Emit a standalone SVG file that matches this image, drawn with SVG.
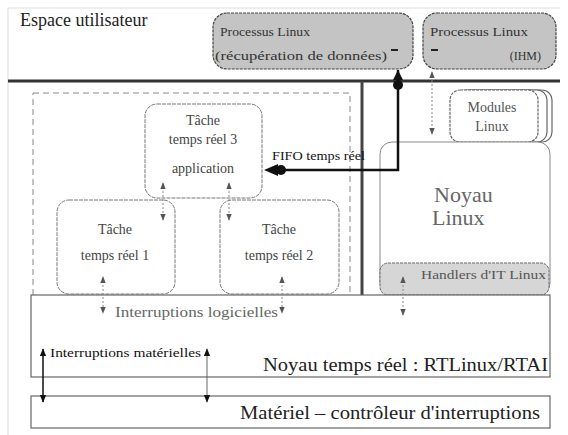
<svg xmlns="http://www.w3.org/2000/svg" width="568" height="435" viewBox="0 0 568 435">
<defs>
<marker id="ah" viewBox="0 0 10 10" refX="9" refY="5" markerWidth="7" markerHeight="7" orient="auto-start-reverse" markerUnits="userSpaceOnUse">
<path d="M0,1 L10,5 L0,9 z" fill="#555"/>
</marker>
<marker id="ahb" viewBox="0 0 10 10" refX="9" refY="5" markerWidth="8" markerHeight="8" orient="auto-start-reverse" markerUnits="userSpaceOnUse">
<path d="M0,1 L10,5 L0,9 z" fill="#111"/>
</marker>
<style>
text{font-family:"Liberation Serif","DejaVu Serif",serif;}
.proc{fill:#c4c4c4;stroke:#444;stroke-width:1.2;stroke-dasharray:3 1;}
.task{fill:#fff;stroke:#777;stroke-width:1;stroke-dasharray:4 1;}
.t{fill:#444;font-size:14px;text-anchor:middle;}
.ps{fill:#333;font-size:12px;}
.dot{stroke:#888;stroke-width:1;stroke-dasharray:2 2;fill:none;}
.box{fill:#fff;stroke:#666;stroke-width:1.2;}
</style>
</defs>
<rect width="568" height="435" fill="#fff"/>
<path d="M8,435 V8 H560" fill="none" stroke="#ddd" stroke-width="1"/>

<g id="espace">
<text x="20" y="26" font-size="18" fill="#222">Espace utilisateur</text>
<line x1="8" y1="81" x2="560" y2="81" stroke="#333" stroke-width="3"/>
</g>

<g id="proc1">
<rect class="proc" x="213" y="13" width="200" height="56" rx="14"/>
<text class="ps" x="220" y="36" textLength="90" lengthAdjust="spacingAndGlyphs">Processus Linux</text>
<text class="ps" x="215" y="60" textLength="172" lengthAdjust="spacingAndGlyphs">(récupération de données)</text>
<line x1="391" y1="50" x2="398" y2="50" stroke="#222" stroke-width="2"/>
</g>

<g id="proc2">
<rect class="proc" x="423" y="13" width="133" height="56" rx="14"/>
<text class="ps" x="430" y="36" textLength="98" lengthAdjust="spacingAndGlyphs">Processus Linux</text>
<text class="ps" x="541" y="60" text-anchor="end">(IHM)</text>
<line x1="431" y1="50" x2="438" y2="50" stroke="#222" stroke-width="2"/>
</g>

<g id="rtspace">
<rect x="33" y="93" width="317" height="204" fill="none" stroke="#888" stroke-width="1" stroke-dasharray="6 4"/>
</g>
<line x1="362" y1="81" x2="362" y2="299" stroke="#444" stroke-width="3"/>

<g id="tache3">
<rect class="task" x="145" y="104" width="117" height="94" rx="12"/>
<text class="t" x="203" y="125">Tâche</text>
<text class="t" x="203" y="144">temps réel 3</text>
<text class="t" x="203" y="173">application</text>
</g>

<g id="tache1">
<rect class="task" x="57" y="200" width="118" height="94" rx="12"/>
<text class="t" x="115" y="234">Tâche</text>
<text class="t" x="115" y="260">temps réel 1</text>
</g>

<g id="tache2">
<rect class="task" x="220" y="200" width="119" height="94" rx="12"/>
<text class="t" x="279" y="234">Tâche</text>
<text class="t" x="279" y="260">temps réel 2</text>
</g>

<g id="modules">
<rect class="box" x="460" y="90" width="92" height="52" rx="10" stroke="#999"/>
<rect class="box" x="455" y="90" width="92" height="52" rx="10" stroke="#999"/>
<rect class="box" x="450" y="90" width="88" height="52" rx="10" stroke="#777" stroke-dasharray="3 1"/>
<text x="492" y="112" font-size="14" fill="#555" text-anchor="middle">Modules</text>
<text x="492" y="131" font-size="14" fill="#555" text-anchor="middle">Linux</text>
</g>

<g id="noyaulinux">
<rect x="380" y="142" width="170" height="153" rx="12" fill="#fff" stroke="#888" stroke-width="1"/>
<text x="434" y="202" font-size="22" fill="#666">Noyau</text>
<text x="432" y="225" font-size="22" fill="#666">Linux</text>
</g>

<g id="handlers">
<rect x="380" y="263" width="169" height="32" rx="8" fill="#d6d6d6" stroke="#666" stroke-width="1" stroke-dasharray="3 1"/>
<text x="546" y="279" font-size="13" fill="#555" text-anchor="end" textLength="125" lengthAdjust="spacingAndGlyphs">Handlers d'IT Linux</text>
</g>

<g id="rtkernel">
<rect class="box" x="31" y="295" width="519" height="82"/>
<text x="548" y="371" font-size="18" fill="#222" text-anchor="end" textLength="285" lengthAdjust="spacingAndGlyphs">Noyau temps réel : RTLinux/RTAI</text>
<text x="115" y="317" font-size="14" fill="#666" textLength="163" lengthAdjust="spacingAndGlyphs">Interruptions logicielles</text>
<text x="50" y="357" font-size="13" fill="#111" textLength="151" lengthAdjust="spacingAndGlyphs">Interruptions matérielles</text>
</g>

<g id="materiel">
<rect class="box" x="31" y="396" width="519" height="32"/>
<text x="540" y="419" font-size="19" fill="#222" text-anchor="end" textLength="300" lengthAdjust="spacingAndGlyphs">Matériel – contrôleur d'interruptions</text>
</g>

<g id="connectors">
<path d="M398,70 V170 H284" fill="none" stroke="#111" stroke-width="2.5"/>
<path d="M398,70 L393,80 L403,80 z" fill="#111"/>
<circle cx="398" cy="85" r="5" fill="#111"/>
<circle cx="281" cy="170" r="5" fill="#111"/>
<path d="M264,170 L278,164 L278,176 z" fill="#111"/>
<text x="272" y="160" font-size="13" fill="#111" textLength="93" lengthAdjust="spacingAndGlyphs">FIFO temps réel</text>

<line class="dot" x1="432" y1="72" x2="432" y2="134" marker-start="url(#ah)" marker-end="url(#ah)"/>
<line class="dot" x1="163" y1="183" x2="163" y2="220" marker-start="url(#ah)" marker-end="url(#ah)"/>
<line class="dot" x1="229" y1="183" x2="229" y2="220" marker-start="url(#ah)" marker-end="url(#ah)"/>
<line class="dot" x1="103" y1="277" x2="103" y2="313" marker-start="url(#ah)" marker-end="url(#ah)"/>
<line class="dot" x1="282" y1="277" x2="282" y2="313" marker-start="url(#ah)" marker-end="url(#ah)"/>
<line class="dot" x1="403" y1="277" x2="403" y2="315" marker-start="url(#ah)" marker-end="url(#ah)"/>
<line x1="43" y1="349" x2="43" y2="402" stroke="#111" stroke-width="1.5" marker-start="url(#ahb)" marker-end="url(#ahb)"/>
<line x1="207" y1="349" x2="207" y2="402" stroke="#666" stroke-width="1" marker-start="url(#ahb)" marker-end="url(#ahb)"/>
</g>
</svg>
